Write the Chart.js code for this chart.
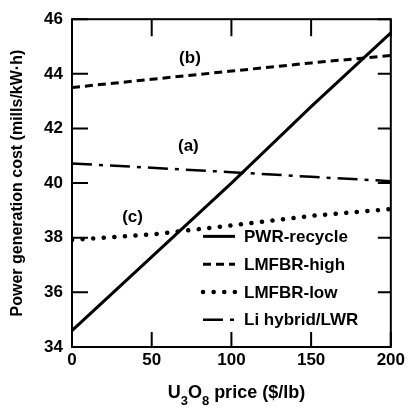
<!DOCTYPE html>
<html>
<head>
<meta charset="utf-8">
<script src="https://cdn.jsdelivr.net/npm/chart.js@4/dist/chart.umd.min.js"></script>
<style>
	html, body { margin: 0; padding: 0; background: #fff; }
	#graficoCusto { display: block; }
</style>
</head>
<body>
<canvas id="graficoCusto" width="408" height="413"></canvas>
<script>
// dados
var precos = [0, 50, 100, 150, 200];
var pwrRecycle = [34.6, 37.3, 40.0, 42.8, 45.5];
var lmfbrHigh = [43.5, 43.8, 44.1, 44.4, 44.67];
var lmfbrLow = [37.92, 38.12, 38.45, 38.8, 39.05];
var liHybrid = [40.72, 40.56, 40.4, 40.23, 40.07];
var nomesSeries = ['PWR-recycle', 'LMFBR-high', 'LMFBR-low', 'Li hybrid/LWR'];
var ticksX = [0, 50, 100, 150, 200];
var ticksY = [34, 36, 38, 40, 42, 44, 46];
var anotacoes = ['(b)', '(a)', '(c)'];
var anotacoesX = [74, 73, 38];
var anotacoesY = [44.56, 41.33, 38.74];
// titulo do eixo x em pedacos: [texto, subscrito?]
var tituloX = [['U', false], ['3', true], ['O', false], ['8', true], [' price ($/lb)', false]];

var Grafico = Grafico || {};

Grafico.CustoGeracao = (function() {

	var FAMILIA = '"Liberation Sans", Arial, sans-serif';

	function CustoGeracao() {
		this.ctx = document.getElementById('graficoCusto').getContext('2d');
	}

	function pontos(valores) {
		return precos.map(function(p, i) { return { x: p, y: valores[i] }; });
	}

	function serie(nome, valores, largura, traco, ponta) {
		return {
			label: nome,
			data: pontos(valores),
			borderColor: '#000',
			borderWidth: largura,
			borderDash: traco,
			borderCapStyle: ponta,
			pointRadius: 0,
			tension: 0,
			fill: false
		};
	}

	function desenhaTituloX(c, centro, base) {
		var normal = 'bold 18px ' + FAMILIA;
		var sub = 'bold 13px ' + FAMILIA;
		var total = 0;
		tituloX.forEach(function(p) {
			c.font = p[1] ? sub : normal;
			total += c.measureText(p[0]).width;
		});
		var x = centro - total / 2;
		c.textAlign = 'left';
		c.textBaseline = 'alphabetic';
		tituloX.forEach(function(p) {
			c.font = p[1] ? sub : normal;
			c.fillText(p[0], x, p[1] ? base + 7 : base);
			x += c.measureText(p[0]).width;
		});
	}

	// moldura, ticks para dentro, legenda e rotulos (a) (b) (c)
	var extras = {
		id: 'extras',
		afterDraw: function(chart) {
			var c = chart.ctx;
			var a = chart.chartArea;
			var sx = chart.scales.x;
			var sy = chart.scales.y;
			c.save();
			c.strokeStyle = '#000';
			c.lineWidth = 2;
			c.setLineDash([]);
			c.strokeRect(a.left, a.top, a.right - a.left, a.bottom - a.top);
			c.beginPath();
			ticksX.forEach(function(v) {
				var px = sx.getPixelForValue(v);
				c.moveTo(px, a.bottom); c.lineTo(px, a.bottom - 15);
				c.moveTo(px, a.top); c.lineTo(px, a.top + 17);
			});
			ticksY.forEach(function(v) {
				var py = sy.getPixelForValue(v);
				c.moveTo(a.left, py); c.lineTo(a.left + 16, py);
				c.moveTo(a.right, py); c.lineTo(a.right - 13, py);
			});
			c.stroke();

			c.fillStyle = '#000';
			c.font = 'bold 17px ' + FAMILIA;
			c.textAlign = 'center';
			c.textBaseline = 'middle';
			anotacoes.forEach(function(t, i) {
				c.fillText(t, sx.getPixelForValue(anotacoesX[i]), sy.getPixelForValue(anotacoesY[i]));
			});

			// legenda dentro da area do grafico
			var x0 = a.left + 131;
			var y0 = sy.getPixelForValue(38.05);
			var passo = 27.8;
			c.textAlign = 'left';
			chart.data.datasets.forEach(function(ds, i) {
				var y = y0 + i * passo;
				c.beginPath();
				c.lineWidth = ds.borderWidth;
				c.lineCap = ds.borderCapStyle || 'butt';
				c.setLineDash(ds.borderDash || []);
				c.moveTo(x0, y);
				c.lineTo(x0 + 32, y);
				c.stroke();
				c.fillText(ds.label, x0 + 41, y + 1);
			});

			desenhaTituloX(c, (a.left + a.right) / 2 + 5, 398);
			c.restore();
		}
	};

	CustoGeracao.prototype.iniciar = function() {
		var fonteTick = { family: FAMILIA, size: 17, weight: 'bold' };
		var fonteTitulo = { family: FAMILIA, size: 16, weight: 'bold' };

		new Chart(this.ctx, {
			type: 'line',
			data: {
				datasets: [
					serie(nomesSeries[0], pwrRecycle, 3, [], 'butt'),
					serie(nomesSeries[1], lmfbrHigh, 3, [8, 5], 'butt'),
					serie(nomesSeries[2], lmfbrLow, 4.5, [0.1, 10.5], 'round'),
					serie(nomesSeries[3], liHybrid, 2.5, [20, 7, 4, 7], 'butt')
				]
			},
			options: {
				responsive: false,
				animation: false,
				layout: { padding: { top: 13, right: 13, left: 0, bottom: 0 } },
				plugins: {
					legend: { display: false },
					tooltip: { enabled: false }
				},
				scales: {
					x: {
						type: 'linear',
						min: 0,
						max: 200,
						afterBuildTicks: function(s) { s.ticks = ticksX.map(function(v) { return { value: v }; }); },
						afterFit: function(s) { s.height = 66; },
						grid: { display: false, drawTicks: false },
						border: { display: false },
						ticks: { color: '#000', font: fonteTick, padding: 3, maxRotation: 0 },
						title: { display: false }
					},
					y: {
						min: 34,
						max: 46,
						afterBuildTicks: function(s) { s.ticks = ticksY.map(function(v) { return { value: v }; }); },
						afterFit: function(s) { s.width = 72; },
						grid: { display: false, drawTicks: false },
						border: { display: false },
						ticks: { color: '#000', font: fonteTick, padding: 9 },
						title: {
							display: true,
							text: 'Power generation cost (mills/kW\u00b7h)',
							color: '#000',
							font: fonteTitulo,
							padding: { top: 8, bottom: 0 }
						}
					}
				}
			},
			plugins: [extras]
		});
	};

	return CustoGeracao;
}());

var graficoCusto = new Grafico.CustoGeracao();
graficoCusto.iniciar();
</script>
</body>
</html>
